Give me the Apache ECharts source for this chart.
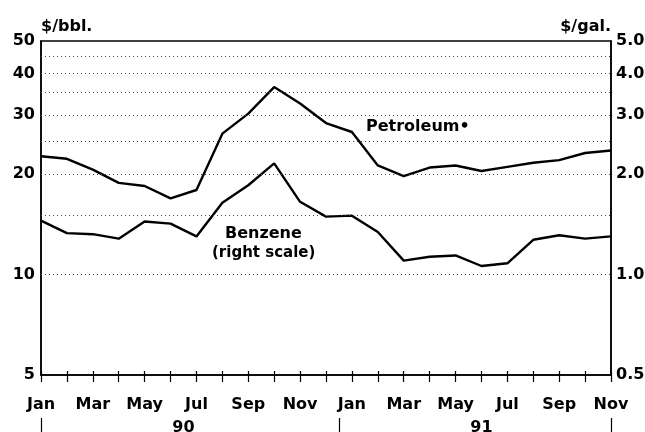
<!DOCTYPE html>
<html>
<head>
<meta charset="utf-8">
<script src="https://cdn.jsdelivr.net/npm/echarts@6/dist/echarts.min.js"></script>
<style>
  html, body { margin: 0; padding: 0; background: #fff; }
  #chart { width: 645px; height: 432px; }
</style>
</head>
<body>
<div id="chart"></div>
<script>
// 月份（1990年1月 - 1991年11月）
const months = [
  'Jan 90', 'Feb 90', 'Mar 90', 'Apr 90', 'May 90', 'Jun 90',
  'Jul 90', 'Aug 90', 'Sep 90', 'Oct 90', 'Nov 90', 'Dec 90',
  'Jan 91', 'Feb 91', 'Mar 91', 'Apr 91', 'May 91', 'Jun 91',
  'Jul 91', 'Aug 91', 'Sep 91', 'Oct 91', 'Nov 91'
];
// 石油 $/bbl（左轴）
const petroleum = [
  22.6, 22.2, 20.6, 18.8, 18.4, 16.9, 17.9, 26.4, 30.3, 36.4, 32.5, 28.4,
  26.7, 21.2, 19.7, 20.9, 21.2, 20.4, 21.0, 21.6, 22.0, 23.1, 23.5
];
// 苯 $/gal（右轴）
const benzene = [
  1.45, 1.33, 1.32, 1.28, 1.44, 1.42, 1.30, 1.64, 1.85, 2.15, 1.65, 1.49,
  1.50, 1.34, 1.10, 1.13, 1.14, 1.06, 1.08, 1.27, 1.31, 1.28, 1.30
];
// 网格线和刻度标签
const gridValues = [5, 10, 15, 20, 25, 30, 35, 40, 45, 50];
const leftTicks = [5, 10, 20, 30, 40, 50];
const leftTickLabels = ['5', '10', '20', '30', '40', '50'];
const rightTicks = [0.5, 1, 2, 3, 4, 5];
const rightTickLabels = ['0.5', '1.0', '2.0', '3.0', '4.0', '5.0'];
const years = ['90', '91'];
const yearCenters = [5.5, 17];
const yearBreaks = [0, 11.5, 22];

const FONT = 'DejaVu Sans';
const chart = echarts.init(document.getElementById('chart'));

const gridLine = { color: '#444', width: 1, type: [1, 3] };
const hidden = { color: 'rgba(0,0,0,0)', width: 0 };

const leftMarks = gridValues.map(v => {
  const i = leftTicks.indexOf(v);
  return {
    yAxis: v,
    lineStyle: (v === 5 || v === 50) ? hidden : gridLine,
    label: {
      show: i >= 0,
      position: 'start',
      distance: 6,
      formatter: i >= 0 ? leftTickLabels[i] : '',
      color: '#000', fontFamily: FONT, fontWeight: 'bold', fontSize: 16
    }
  };
});

const rightMarks = rightTicks.map((v, i) => ({
  yAxis: v,
  lineStyle: hidden,
  label: {
    show: true,
    position: 'end',
    distance: 5,
    formatter: rightTickLabels[i],
    color: '#000', fontFamily: FONT, fontWeight: 'bold', fontSize: 16
  }
}));

const option = {
  animation: false,
  backgroundColor: '#fff',
  grid: {
    left: 41, right: 34, top: 41, bottom: 57,
    outerBoundsMode: 'none',
    show: true, borderColor: '#000', borderWidth: 1.5, backgroundColor: 'transparent'
  },
  xAxis: [
    {
      type: 'category', data: months, boundaryGap: false, position: 'bottom',
      axisLine: { lineStyle: { color: '#000', width: 1.5 } },
      axisTick: { show: true, interval: 0, length: 7, lineStyle: { color: '#000', width: 1.2 } },
      axisLabel: {
        interval: 1, margin: 22, color: '#000',
        fontFamily: FONT, fontWeight: 'bold', fontSize: 16,
        formatter: v => v.split(' ')[0]
      },
      splitLine: { show: false }
    },
    {
      type: 'category', data: months, boundaryGap: false, position: 'bottom',
      axisLine: { show: false },
      axisTick: { show: true, inside: true, interval: 0, length: 4, lineStyle: { color: '#000', width: 1.2 } },
      axisLabel: { show: false },
      splitLine: { show: false }
    },
    {
      type: 'value', min: 0, max: 22, position: 'bottom', offset: 43,
      axisLine: { show: false },
      axisTick: { show: true, length: 24, customValues: yearBreaks, lineStyle: { color: '#000', width: 1.2 } },
      axisLabel: {
        customValues: yearCenters, margin: 2, color: '#000',
        fontFamily: FONT, fontWeight: 'bold', fontSize: 16,
        formatter: v => years[yearCenters.indexOf(v)]
      },
      splitLine: { show: false }
    }
  ],
  yAxis: [
    {
      type: 'log', logBase: 10, min: 5, max: 50, position: 'left',
      name: '$/bbl.', nameLocation: 'end', nameGap: 6,
      nameTextStyle: { align: 'left', color: '#000', fontFamily: FONT, fontWeight: 'bold', fontSize: 16 },
      axisLine: { show: true, lineStyle: { color: '#000', width: 1.5 } },
      axisTick: { show: false }, axisLabel: { show: false }, splitLine: { show: false }
    },
    {
      type: 'log', logBase: 10, min: 0.5, max: 5, position: 'right',
      name: '$/gal.', nameLocation: 'end', nameGap: 6,
      nameTextStyle: { align: 'right', color: '#000', fontFamily: FONT, fontWeight: 'bold', fontSize: 16 },
      axisLine: { show: true, lineStyle: { color: '#000', width: 1.5 } },
      axisTick: { show: false }, axisLabel: { show: false }, splitLine: { show: false }
    }
  ],
  series: [
    {
      name: 'Petroleum', type: 'line', xAxisIndex: 0, yAxisIndex: 0,
      data: petroleum, symbol: 'none',
      lineStyle: { color: '#000', width: 2.4 },
      markLine: { silent: true, symbol: ['none', 'none'], data: leftMarks }
    },
    {
      name: 'Benzene', type: 'line', xAxisIndex: 0, yAxisIndex: 1,
      data: benzene, symbol: 'none',
      lineStyle: { color: '#000', width: 2.4 },
      markLine: { silent: true, symbol: ['none', 'none'], data: rightMarks }
    }
  ],
  graphic: [
    {
      type: 'text', left: 366, top: 119,
      style: { text: 'Petroleum•', fill: '#000', font: 'bold 16px "DejaVu Sans"' }
    },
    {
      type: 'text', left: 225, top: 226,
      style: { text: 'Benzene', fill: '#000', font: 'bold 16px "DejaVu Sans"' }
    },
    {
      type: 'text', left: 212, top: 246,
      style: { text: '(right scale)', fill: '#000', font: 'bold 15px "DejaVu Sans"' }
    }
  ]
};

chart.setOption(option);
</script>
</body>
</html>
